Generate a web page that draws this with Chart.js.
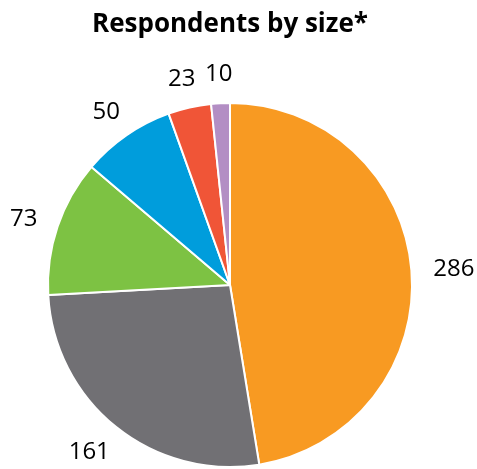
<!DOCTYPE html>
<html>
<head>
<meta charset="utf-8">
<script src="https://cdn.jsdelivr.net/npm/chart.js@4/dist/chart.umd.min.js"></script>
<style>
  html, body { margin: 0; padding: 0; background: #fff; }
  #wrap { width: 477px; height: 469px; }
</style>
</head>
<body>
<div id="wrap"><canvas id="graficoTamanho"></canvas></div>
<script>
// dados
const categorias = ['Group 1', 'Group 2', 'Group 3', 'Group 4', 'Group 5', 'Group 6'];
const respondentes = [286, 161, 73, 50, 23, 10];
const titulo = 'Respondents by size*';

const cores = ['#F89A22', '#717074', '#7DC243', '#009DDC', '#F05537', '#B38EC4'];

// rótulos de valor fora da pizza (estilo Excel)
const rotulosFora = {
    id: 'rotulosFora',
    afterDraw(chart) {
        const ctx = chart.ctx;
        const meta = chart.getDatasetMeta(0);
        const fontSize = 24;
        const capH = fontSize * 0.714;
        ctx.save();
        ctx.font = fontSize + 'px "Open Sans"';
        ctx.fillStyle = '#000';
        ctx.textAlign = 'center';
        ctx.textBaseline = 'alphabetic';
        meta.data.forEach(function (arc, i) {
            const p = arc.getProps(['x', 'y', 'startAngle', 'endAngle', 'outerRadius'], true);
            const meio = (p.startAngle + p.endAngle) / 2;
            const ux = Math.cos(meio), uy = Math.sin(meio);
            const texto = String(chart.data.datasets[0].data[i]);
            const hw = ctx.measureText(texto).width / 2;
            const d = p.outerRadius + 22;
            const cx = p.x + d * ux + hw * ux;
            const cy = p.y + d * uy + (capH / 2) * uy;
            ctx.fillText(texto, cx, cy + capH / 2);
        });
        ctx.restore();
    }
};

const ctx = document.getElementById('graficoTamanho').getContext('2d');

new Chart(ctx, {
    type: 'pie',
    data: {
        labels: categorias,
        datasets: [{
            data: respondentes,
            backgroundColor: cores,
            borderColor: '#fff',
            borderWidth: 2
        }]
    },
    options: {
        responsive: true,
        maintainAspectRatio: false,
        animation: false,
        layout: { padding: { top: 0, left: 47, right: 64, bottom: 1 } },
        plugins: {
            legend: { display: false },
            tooltip: { enabled: false },
            title: {
                display: true,
                text: titulo,
                color: '#000',
                font: { family: '"Open Sans"', size: 26, weight: 'bold', lineHeight: 1.2 },
                padding: { top: 9, bottom: 61.8 }
            }
        }
    },
    plugins: [rotulosFora]
});
</script>
</body>
</html>
